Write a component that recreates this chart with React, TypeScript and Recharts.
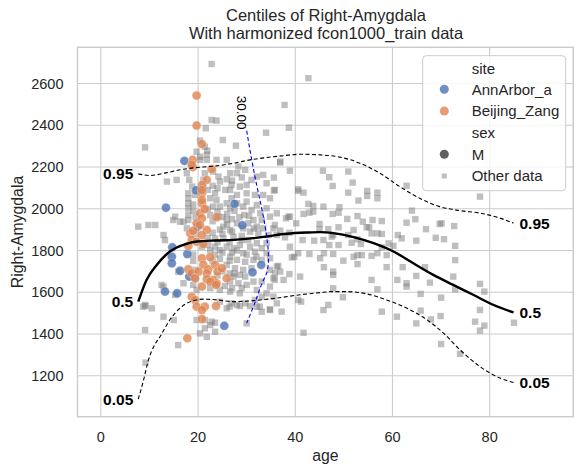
import React from 'react';
import { ScatterChart, Scatter, XAxis, YAxis, CartesianGrid, ReferenceArea } from 'recharts';

const FONT = '"Liberation Sans", Arial, Helvetica, sans-serif';
const TEXT = '#262626';

const xTicks = [0, 20, 40, 60, 80];
const yTicks = [1200, 1400, 1600, 1800, 2000, 2200, 2400, 2600];

// centile curves [age, volume]
const c95 = [
  [7.7, 2167], [10.1, 2159], [13.6, 2173], [17, 2189], [20.4, 2199], [23.8, 2205], [27.3, 2218],
  [30.7, 2234], [34.1, 2245], [37.6, 2254], [41, 2261], [45.1, 2258], [49.2, 2247], [53.3, 2218],
  [57.4, 2170], [61.5, 2106], [65.6, 2050], [69.7, 2010], [73.8, 1991], [78, 1979], [82.1, 1955], [84.9, 1931],
];
const c50 = [
  [7.7, 1555], [9.4, 1659], [11.5, 1731], [14.2, 1795], [17, 1827], [19.7, 1843], [23.8, 1848],
  [27.3, 1851], [31.4, 1859], [34.1, 1867], [38.2, 1880], [42.4, 1886], [45.1, 1888], [47.8, 1883],
  [52, 1864], [56.1, 1835], [60.2, 1795], [64.3, 1739], [68.4, 1683], [72.5, 1635], [76.6, 1588],
  [80.7, 1540], [84.9, 1503],
];
const c05 = [
  [7.7, 1088], [8.8, 1180], [9.8, 1276], [11, 1345], [12.2, 1388], [14.2, 1468], [16.3, 1524],
  [18.4, 1555], [21.1, 1567], [24, 1563], [27.3, 1555], [31.4, 1560], [36.2, 1572], [41, 1588],
  [45.1, 1598], [47.8, 1603], [50.6, 1603], [54.7, 1592], [58.8, 1563], [62.9, 1524], [67.1, 1468],
  [70.5, 1404], [73.9, 1324], [78, 1244], [82.1, 1189], [84.9, 1168],
];
// distribution slice at age 30
const slice30 = [
  [30, 2374], [31, 2240], [32, 2120], [33.2, 1990], [34.1, 1870], [34.5, 1760], [34.2, 1700],
  [33.1, 1640], [31.7, 1550], [30, 1452],
];

const annArbor = [
  [17.2, 2229], [13.4, 2005], [19.6, 2088], [27.5, 2023], [29.1, 1921], [14.7, 1815], [14.6, 1770],
  [14.6, 1739], [16.3, 1703], [18.2, 1675], [17.8, 1783], [13.2, 1603], [15.7, 1595], [19.9, 1914],
  [33, 1731], [31.2, 1696], [25.4, 1439],
];
const beijing = [
  [19.7, 2542], [19.7, 2398], [20.8, 2310], [18.9, 2234], [18.9, 2199], [22.8, 2190], [21.8, 2138],
  [20.8, 2114], [20.8, 2074], [20.8, 2026], [23.8, 1959], [20.4, 1978], [19.7, 1930], [18.4, 1882],
  [18.7, 2210], [20.8, 2090], [20.8, 2042], [21.4, 1998], [20.8, 1954], [20.4, 1922], [21.8, 1898],
  [19, 1895], [20.8, 1874], [18.7, 1850], [19.7, 1842], [18, 1822], [21.1, 1831], [20.8, 1763],
  [22.5, 1768], [21.1, 1731], [22.1, 1710], [23.5, 1731], [24, 1699], [18, 1710], [18.7, 1691],
  [20.1, 1699], [21.8, 1691], [24.9, 1715], [25.9, 1667], [23.1, 1659], [21.8, 1662], [19.4, 1667],
  [20.8, 1627], [23.8, 1643], [22.5, 1651], [18.7, 1579], [19.4, 1563], [19.7, 1531], [21.4, 1531],
  [23.7, 1534], [20.8, 1515], [20.8, 1472], [17.8, 1380], [23.7, 1635],
];

const otherYoung = [
  [9.1, 2294], [19.7, 2273], [21.8, 2258], [20.4, 2234], [21.8, 2234], [23.8, 2234], [27.8, 2302],
  [21.4, 2297], [13.6, 2130], [15.6, 2138], [17.7, 2170], [18.2, 2138], [18.8, 2106], [23.1, 2178],
  [24.2, 2154], [25.9, 2141], [26.6, 2170], [28, 2170], [29.7, 2186], [31, 2138], [32.1, 2154],
  [33.4, 2162], [34.1, 2122], [35.8, 2090], [30, 2114], [28.6, 2106], [26.9, 2114], [25.6, 2090],
  [24, 2098], [30, 2074], [31.7, 2066], [33.4, 2066], [34.8, 2050], [18, 2074], [18, 2050], [18, 2026],
  [18, 2002], [18, 1970], [18, 1946], [17, 1938], [17.7, 1906], [19.4, 2066], [22.5, 2050], [23.5, 2074],
  [23.8, 2042], [23.1, 2010], [24.5, 2010], [25.9, 2026], [26.6, 2002], [28, 2026], [29.3, 2010],
  [30, 2034], [31, 1994], [32.1, 2018], [32.8, 1978], [34.1, 2002], [34.8, 1962], [36.2, 1978],
  [33.1, 1946], [31.4, 1946], [30.3, 1930], [32.1, 1914], [33.4, 1906], [35.5, 1906], [36.2, 1874],
  [34.5, 1874], [32.4, 1882], [30.7, 1890], [29.3, 1906], [28, 1930], [25.9, 1946], [25.2, 1914],
  [24.2, 1962], [26.6, 1898], [27.3, 1866], [25.2, 1858], [23.5, 1858], [29, 1850], [30.3, 1850],
  [32.1, 1835], [34.1, 1835], [15.3, 1962], [16.3, 1938], [14.9, 1946], [12.9, 1874], [13.2, 1850],
  [11.2, 1922], [7.7, 1914], [21.1, 2138], [21.1, 2106], [21.4, 2170], [26.6, 2090], [28, 2066],
  [26.9, 2050], [9.8, 1922],
];
// overlapping squares in the dense 18-32 cluster
const otherDense = [
  [22, 2000], [22.5, 1970], [23, 1940], [24, 1985], [25, 1960], [26, 1975], [27, 1950], [27.5, 1990],
  [26, 1925], [24.5, 1900], [23, 1885], [22, 1860], [25, 1880], [27, 1890], [28.5, 1960], [29.5, 1970],
  [30.5, 1965], [31.5, 1905], [29, 1870], [26.5, 1840], [24, 1840], [22.5, 1800], [23.5, 1780],
  [25, 1790], [27, 1790], [28, 1800], [30, 1780], [32, 1770], [23, 1750], [24.5, 1760], [26.5, 1750],
  [25, 1700], [26.5, 1690], [27.5, 1690], [24, 1680], [22.5, 1620], [25.5, 1630], [27, 1620],
  [29, 1620], [22, 2090], [23, 2110], [24.5, 2130], [27, 2135], [29, 2150], [19, 2020], [19, 1990],
  [19.5, 1960], [19.5, 1880], [19, 1780], [19, 1750],
];
const otherYoungLow = [
  [20.8, 1818], [22.1, 1826], [23.5, 1818], [24.5, 1802], [25.9, 1818], [27.3, 1811], [28.6, 1826],
  [30.7, 1818], [31.7, 1794], [33.1, 1811], [34.1, 1787], [29.3, 1787], [26.6, 1770], [28, 1755],
  [29.7, 1746], [31.4, 1755], [33.1, 1755], [34.8, 1763], [25.9, 1731], [27.6, 1715], [29.3, 1707],
  [31, 1715], [28.6, 1683], [27.3, 1675], [29.7, 1675], [26.6, 1651], [28.3, 1643], [30, 1635],
  [31.4, 1651], [34.8, 1707], [35.5, 1667], [36.2, 1723], [33.1, 1651], [34.8, 1627], [32.1, 1611],
  [28.6, 1595], [26.6, 1603], [24.5, 1611], [19.4, 1707], [19.4, 1667], [19, 1635], [19.7, 1611],
  [17, 1643], [15.9, 1699], [12.5, 1635], [15.3, 1587], [9.1, 1539], [10.5, 1523], [25.9, 1523],
  [28, 1539], [29.7, 1547], [32.1, 1531], [34.8, 1515], [36.2, 1547], [31.7, 1563], [33.1, 1579],
  [34.1, 1595], [35.5, 1579], [30, 1451], [21.4, 1467], [22.5, 1443], [21.4, 1427], [21.8, 1387],
  [22.8, 1459], [9.1, 1419], [15.9, 1347], [12.9, 1483], [35.8, 1659], [33.1, 1507], [37.2, 1507],
  [26.9, 1547], [24.5, 1555], [20.4, 1403], [19.7, 1467], [8.7, 1531], [12.9, 1627], [9.2, 1263],
  [9.2, 1534], [15, 1467], [23.5, 1454], [23.5, 1411], [28.6, 1534], [26.5, 1531], [30.7, 1534],
  [32.7, 1531],
];
const otherUpper = [
  [22.8, 2693], [21.6, 2385], [22.8, 2425], [23.8, 2422], [25.1, 2329], [20.4, 2326], [21.9, 2278],
  [20.4, 2249], [37.8, 2497], [42.7, 2625], [34, 2364], [36.9, 2226], [43.7, 1986], [28.3, 2202],
  [25.9, 2234], [38.6, 1962], [38.7, 2388],
];
const otherMid = [
  [36.9, 2221], [38.9, 2182], [35.6, 2087], [40.6, 2093], [40.6, 2085], [41.7, 2077], [45.7, 2182],
  [47, 2151], [50.9, 2178], [51.8, 2125], [47.7, 2109], [50.9, 2077], [54.8, 2085], [54.8, 2061],
  [56.9, 2077], [56.9, 2050], [62.9, 2110], [53, 2039], [42.7, 2023], [43.7, 2013], [42.9, 1981],
  [41.7, 1975], [45.8, 2010], [47.7, 1975], [49.1, 2007], [48.9, 1981], [50.7, 1951], [52.8, 1965],
  [53.9, 1938], [55.9, 1946], [57.8, 1941], [55.2, 1911], [56.9, 1882], [57.8, 1879], [64, 1991],
  [64.7, 1950], [62.9, 1933], [66.9, 1902], [70.1, 1930], [70.6, 1854], [68.9, 1861], [72.9, 1822],
  [38.1, 1954], [38.9, 1962], [40.2, 1930], [35.8, 1922], [36.9, 1895], [38.8, 1885], [37.9, 1863],
  [45, 1927], [45, 1902], [46.8, 1902], [47.8, 1874], [48.9, 1911], [50.9, 1874], [52, 1898],
  [52.8, 1854], [54.7, 1911], [55.7, 1882], [41.5, 1850], [43.9, 1847], [45.8, 1850], [47.5, 1866],
  [47, 1826], [48.9, 1826], [51.6, 1837], [53.5, 1831], [59.2, 1834], [60.2, 1822], [61.1, 1874],
  [61.9, 1858], [64.9, 1847], [38.9, 1818], [40.6, 1787], [39.3, 1767], [39.8, 1770], [42.9, 1783],
  [45.1, 1763], [45.9, 1787], [47.8, 1783], [49.9, 1751], [52, 1770], [52.8, 1778], [52.8, 1735],
  [53.7, 1778], [55.7, 1774], [56.9, 1787], [58.8, 1778], [57.8, 1815], [36.5, 1726], [36.9, 1699],
  [35.8, 1691], [37.6, 1659], [38.8, 1687], [41, 1675], [45.9, 1720], [47.8, 1683], [47.8, 1699],
  [58.8, 1720], [62.1, 1720], [66.7, 1720], [64.9, 1678], [61, 1659], [62.9, 1643], [62.9, 1627],
  [55.7, 1659], [56.9, 1614], [47.8, 1619], [49.8, 1576], [67.7, 1646], [72.5, 1675], [72.9, 1614],
  [65.8, 1592], [45.8, 1515], [46.8, 1539], [40.6, 1563], [34.8, 1518], [57.8, 1507], [60.9, 1483],
  [64.9, 1451], [65.8, 1512], [67.9, 1470], [69.9, 1486], [41.7, 1406], [35.6, 2149], [41.2, 1555],
];
const otherOld = [
  [78, 2058], [72.7, 1917], [69.7, 1927], [78.9, 1603], [78, 1640], [78, 1515], [77, 1459],
  [78.9, 1440], [78, 1416], [85, 1454], [73.9, 1305], [72.9, 1754], [70, 1574], [70, 1352],
];

const labelText = ['0.95', '0.5', '0.05'];

const toPts = (arr: number[][]) => arr.map(([age, vol]) => ({ age, vol }));

const curveLabels = [c95, c50, c05].flatMap((c, i) => [
  { age: c[0][0], vol: c[0][1], text: labelText[i], side: 'left' },
  { age: c[c.length - 1][0], vol: c[c.length - 1][1], text: labelText[i], side: 'right' },
]);
const sliceLabel = [{ age: slice30[0][0], vol: slice30[0][1], text: '30.00' }];

const BLUE = '#4c72b0';
const ORANGE = '#dd8452';

const Square = (p: any) => (
  <rect x={p.cx - 3.2} y={p.cy - 3.2} width={6.4} height={6.4} fill="#808080" fillOpacity={0.5} />
);
const Dot = (color: string) => (p: any) => (
  <circle cx={p.cx} cy={p.cy} r={4.5} fill={color} fillOpacity={0.8} stroke="#fff" strokeOpacity={0.6} strokeWidth={0.5} />
);
const Empty = () => <g />;

const CentileLabel = (p: any) => {
  const d = p.payload ?? p;
  const right = d.side === 'right';
  return (
    <text x={right ? p.cx + 6 : p.cx - 5} y={p.cy} dy="0.36em" textAnchor={right ? 'start' : 'end'}
      fontFamily={FONT} fontWeight="bold" fontSize={15.5} fill="#000">
      {d.text}
    </text>
  );
};
const SliceLabel = (p: any) => {
  const d = p.payload ?? p;
  const x = p.cx - 5;
  const y = p.cy - 18;
  return (
    <text x={x} y={y} transform={`rotate(90 ${x} ${y})`} textAnchor="middle" dy="0.36em"
      fontFamily={FONT} fontSize={13.5} fill="#000">
      {d.text}
    </text>
  );
};

const dash = '4 2.5';

export default function App() {
  return (
    <div style={{ position: 'absolute', left: 0, top: 0, width: 583, height: 475, background: '#fff' }}>
      <ScatterChart width={583} height={475} margin={{ top: 47.3, right: 9.7, bottom: 0, left: 0 }}>
        <CartesianGrid stroke="#cccccc" strokeWidth={1.1} />
        <XAxis type="number" dataKey="age" domain={[-4.8, 97.2]} ticks={xTicks} allowDataOverflow
          height={58.3} tickSize={0} tickMargin={15} tickLine={false} axisLine={false}
          tick={{ fill: TEXT, fontSize: 14.5, fontFamily: FONT }} />
        <YAxis type="number" dataKey="vol" domain={[1004, 2773]} ticks={yTicks} allowDataOverflow
          width={77.5} tickSize={0} tickMargin={14} tickLine={false} axisLine={false}
          tick={{ fill: TEXT, fontSize: 14.5, fontFamily: FONT }} />
        <ReferenceArea x1={-4.8} x2={97.2} y1={1004} y2={2773} fill="none" stroke="#cccccc" strokeWidth={1.3} />
        {[otherYoung, otherDense, otherYoungLow, otherUpper, otherMid, otherOld].map((arr, i) => (
          <Scatter key={`o${i}`} data={toPts(arr)} shape={Square} isAnimationActive={false} />
        ))}
        <Scatter data={toPts(annArbor)} shape={Dot(BLUE)} isAnimationActive={false} />
        <Scatter data={toPts(beijing)} shape={Dot(ORANGE)} isAnimationActive={false} />
        <Scatter data={toPts(c95)} shape={Empty} line={{ stroke: '#000', strokeWidth: 1.1, strokeDasharray: dash }}
          lineJointType="monotoneX" isAnimationActive={false} />
        <Scatter data={toPts(c50)} shape={Empty} line={{ stroke: '#000', strokeWidth: 2.4 }}
          lineJointType="monotoneX" isAnimationActive={false} />
        <Scatter data={toPts(c05)} shape={Empty} line={{ stroke: '#000', strokeWidth: 1.1, strokeDasharray: dash }}
          lineJointType="monotoneX" isAnimationActive={false} />
        <Scatter data={toPts(slice30)} shape={Empty} line={{ stroke: '#0000ff', strokeWidth: 1.1, strokeDasharray: dash }}
          lineJointType="monotoneY" isAnimationActive={false} />
        <Scatter data={curveLabels} shape={CentileLabel} isAnimationActive={false} />
        <Scatter data={sliceLabel} shape={SliceLabel} isAnimationActive={false} />
      </ScatterChart>
      <svg width={583} height={475} style={{ position: 'absolute', left: 0, top: 0, pointerEvents: 'none' }}
        fontFamily={FONT}>
        <text x={326} y={20.5} textAnchor="middle" fontSize={16.5} fill={TEXT}>Centiles of Right-Amygdala</text>
        <text x={326} y={38.5} textAnchor="middle" fontSize={16.5} fill={TEXT}>With harmonized fcon1000_train data</text>
        <text x={325.4} y={461} textAnchor="middle" fontSize={15.8} fill={TEXT}>age</text>
        <text x={22.5} y={232} textAnchor="middle" fontSize={15.8} fill={TEXT} transform="rotate(-90 22.5 232)">Right-Amygdala</text>
        <rect x={422.7} y={55.7} width={143} height={135} rx={3.5} fill="#fff" fillOpacity={0.8} stroke="#cccccc" strokeWidth={1} />
        <text x={471.7} y={73.5} fontSize={15} fill={TEXT}>site</text>
        <circle cx={444.3} cy={89.3} r={4.5} fill={BLUE} fillOpacity={0.8} />
        <text x={471.7} y={94.7} fontSize={15} fill={TEXT}>AnnArbor_a</text>
        <circle cx={444.3} cy={111} r={4.5} fill={ORANGE} fillOpacity={0.8} />
        <text x={471.7} y={116.3} fontSize={15} fill={TEXT}>Beijing_Zang</text>
        <text x={471.7} y={138} fontSize={15} fill={TEXT}>sex</text>
        <circle cx={444.3} cy={154.3} r={4.5} fill="#444" fillOpacity={0.85} />
        <text x={471.7} y={159.6} fontSize={15} fill={TEXT}>M</text>
        <rect x={441.8} y={173.5} width={5} height={5} fill="#808080" fillOpacity={0.5} />
        <text x={471.7} y={181.3} fontSize={15} fill={TEXT}>Other data</text>
      </svg>
    </div>
  );
}
